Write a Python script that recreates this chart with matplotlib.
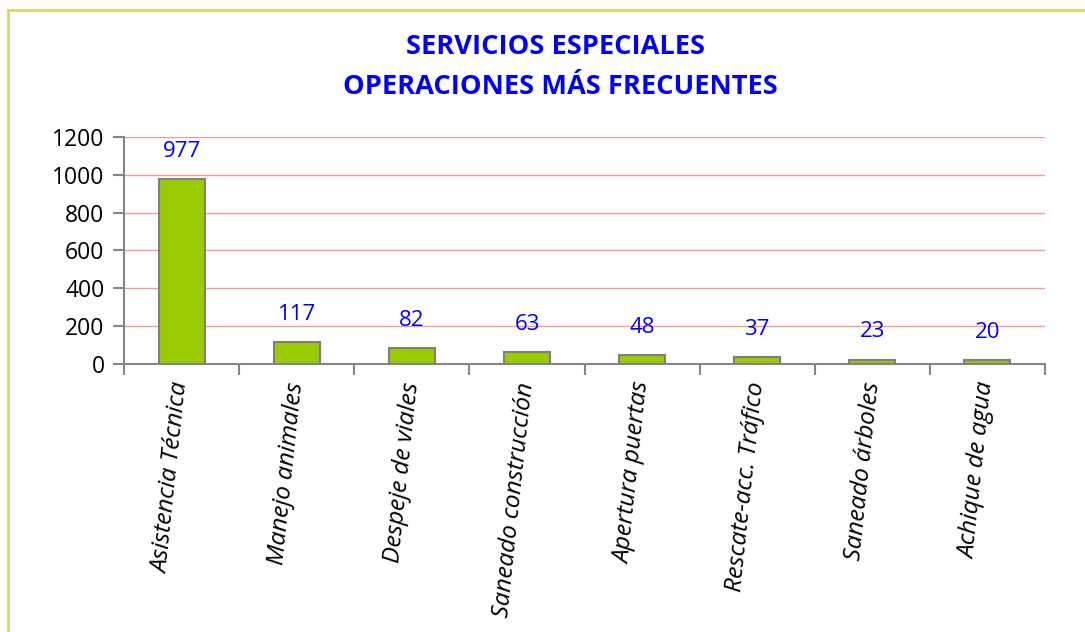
import matplotlib
matplotlib.use("Agg")
import matplotlib.pyplot as plt
from matplotlib.lines import Line2D

categories = ["Asistencia Técnica", "Manejo animales", "Despeje de viales",
              "Saneado construcción", "Apertura puertas", "Rescate-acc. Tráfico",
              "Saneado árboles", "Achique de agua"]
values = [977, 117, 82, 63, 48, 37, 23, 20]
yticks = [0, 200, 400, 600, 800, 1000, 1200]
title_lines = ["SERVICIOS ESPECIALES", "OPERACIONES MÁS FRECUENTES"]

plt.rcParams['font.family'] = ['Open Sans', 'DejaVu Sans']

fig = plt.figure(figsize=(10.85, 6.32), dpi=100)
W, H = 1085, 632
ax = fig.add_axes([124 / W, 1 - 364 / H, (1045 - 124) / W, (364 - 137) / H])

x = list(range(len(categories)))
ax.bar(x, values, width=0.4, color='#99CC00', edgecolor='#7F7F7F', linewidth=1.5, zorder=3)
for xi, v in zip(x, values):
    ax.annotate(str(v), (xi, v), xytext=(0, 20), textcoords='offset points',
                ha='center', va='center', color='#0000FF', fontsize=16, zorder=4)

ax.set_xlim(-0.5, len(categories) - 0.5)
ax.set_ylim(0, 1200)
ax.set_yticks(yticks)
ax.set_yticklabels([str(t) for t in yticks], fontsize=16.5)
ax.yaxis.grid(True, color='#F09A9A', linewidth=1)
ax.set_axisbelow(True)

ax.set_xticks(x)
ax.set_xticklabels(categories, rotation=84, ha='right', va='center', rotation_mode='anchor',
                   fontsize=17.5, style='italic')
ax.tick_params(axis='x', length=0, pad=13)
ax.set_xticks([i - 0.5 for i in range(len(categories) + 1)], minor=True)
ax.tick_params(axis='x', which='minor', length=8, color='#868686', width=1.5, direction='out')
ax.tick_params(axis='y', length=8, color='#868686', width=1.5, direction='out', pad=6)

for s in ['top', 'right']:
    ax.spines[s].set_visible(False)
for s in ['left', 'bottom']:
    ax.spines[s].set_color('#868686')
    ax.spines[s].set_linewidth(1.5)

fig.text(556 / W, 1 - 47 / H, title_lines[0], ha='center', va='center', color='#0000FF',
         fontsize=19.6, fontweight='bold')
fig.text(560 / W, 1 - 87 / H, title_lines[1], ha='center', va='center', color='#0000FF',
         fontsize=19.6, fontweight='bold')

# light green frame
fig.add_artist(Line2D([8 / W, 1.0], [1 - 10 / H, 1 - 10 / H], transform=fig.transFigure,
                      color='#C4E36A', linewidth=2))
fig.add_artist(Line2D([8 / W, 8 / W], [0, 1 - 10 / H], transform=fig.transFigure,
                      color='#C4E36A', linewidth=2))

fig.savefig("out.png", dpi=100)
